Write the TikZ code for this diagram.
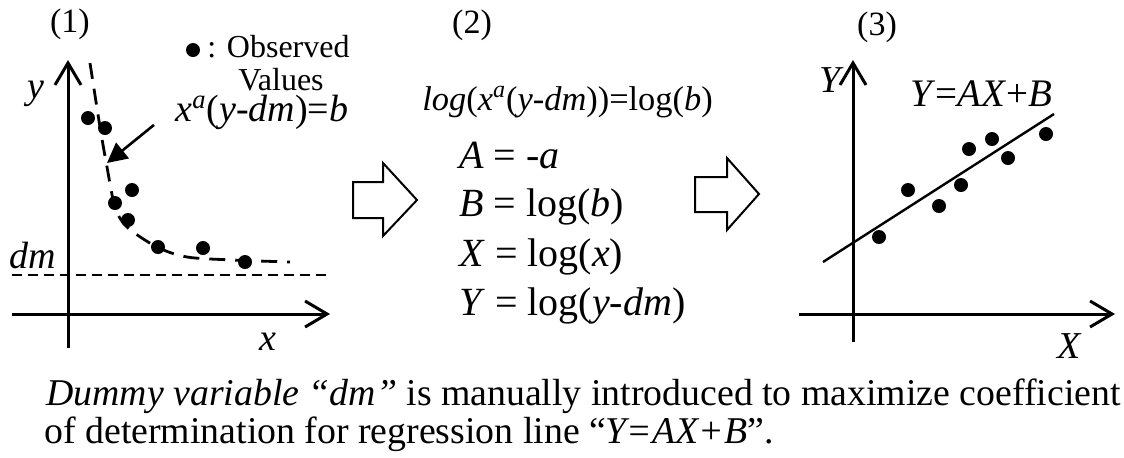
\documentclass[tikz,border=0pt]{standalone}
\usepackage{fontspec}
\setmainfont{Liberation Serif}
\usetikzlibrary{arrows.meta,positioning,calc}

\begin{document}
\begin{tikzpicture}[x=0.5pt,y=-0.5pt,
    axis/.style={line width=1.5pt, -{Straight Barb[length=11pt,width=13pt,line width=1.5pt]}},
    txt/.style={inner sep=0pt, anchor=base west, font=\fontsize{19}{22}\selectfont},
    eqn/.style={txt, font=\fontsize{20}{23}\selectfont},
    tag/.style={inner sep=0pt, font=\fontsize{17}{20}\selectfont},
    small/.style={inner sep=0pt, anchor=base west, font=\fontsize{16}{19}\selectfont},
    blockarrow/.style={line width=1pt, line join=miter}]
    \useasboundingbox (0,0) rectangle (1124,457);

    % (1) original curve
    \node[tag] (t1) at (70,24) {(1)};
    \draw[axis] (68,348) -- (68,60);
    \draw[axis] (12,314) -- (330,314);
    \node[txt] (ly) at (27,98) {\textit{y}};
    \node[txt] (lx) at (259,350) {\textit{x}};
    \node[txt] (ldm) at (9,268) {\textit{dm}};
    \draw[line width=1.1pt, dash pattern=on 5pt off 3pt] (12,275) -- (330,275);
    \draw[line width=1.4pt, dash pattern=on 8pt off 5pt] plot[smooth] coordinates
      {(90,63) (100,127) (107,167) (115,207) (127,227) (157,247) (187,257) (233,260) (290,262)};
    \foreach \px/\py in {88/118, 105/128, 132/190, 115/203, 128/220, 158/247, 203/248, 245/262}
      \fill (\px,\py) circle (7);
    % legend
    \fill (193,50) circle (7);
    \node[small] (obs) at (207,57) {: Observed};
    \node[small, anchor=base] (vals) at (281,90) {Values};
    % model label
    \node[txt] (model) at (175,121) {\textit{x}\textsuperscript{\textit{a}}(\textit{y}-\textit{dm})=\textit{b}};
    \coordinate (onfit) at (107,163);
    \draw[line width=1.3pt, -{Triangle[length=10pt,width=10pt]}]
      ([shift={(-21,13)}]model.west) -- (onfit);

    % step arrows
    \draw[blockarrow] (353,182) -- (383,182) -- (383,163) -- (417,200) -- (383,236)
      -- (383,218) -- (353,218) -- cycle;
    \draw[blockarrow] (695,177) -- (727,177) -- (727,158) -- (759,194) -- (727,230)
      -- (727,212) -- (695,212) -- cycle;

    % (2) transformation
    \node[tag] (t2) at (472,25) {(2)};
    \node[txt, font=\fontsize{17.2}{20}\selectfont] (eqlog) at (422,110)
      {\textit{log}(\textit{x}\textsuperscript{\textit{a}}(\textit{y}-\textit{dm}))=log(\textit{b})};
    \node[eqn] (eqA) at (459,168) {\textit{A} = -\textit{a}};
    \node[eqn] (eqB) at (459,216) {\textit{B} = log(\textit{b})};
    \node[eqn] (eqX) at (459,266) {\textit{X} = log(\textit{x})};
    \node[eqn] (eqY) at (459,315) {\textit{Y} = log(\textit{y}-\textit{dm})};

    % (3) regression
    \node[tag] (t3) at (877,27) {(3)};
    \draw[axis] (853,342) -- (853,60);
    \draw[axis] (799,314) -- (1115,314);
    \node[txt] (lY) at (819,92) {\textit{Y}};
    \node[txt] (lX) at (1057,358) {\textit{X}};
    \node[txt, font=\fontsize{19.5}{22}\selectfont] (reg) at (910,106) {\textit{Y}=\textit{AX}+\textit{B}};
    \draw[line width=1.2pt] (823,262) -- (1054,114);
    \foreach \px/\py in {879/237, 908/190, 939/206, 961/185, 969/149, 992/139, 1008/158, 1046/134}
      \fill (\px,\py) circle (7);

    % note
    \node[txt, font=\fontsize{18.9}{22}\selectfont] (note1) at (46,405)
      {\textit{Dummy variable ``dm''} is manually introduced to maximize coefficient};
    \node[txt, font=\fontsize{18.9}{22}\selectfont] (note2) at (44,443)
      {of determination for regression line ``\textit{Y=AX+B}''.};
\end{tikzpicture}
\end{document}
